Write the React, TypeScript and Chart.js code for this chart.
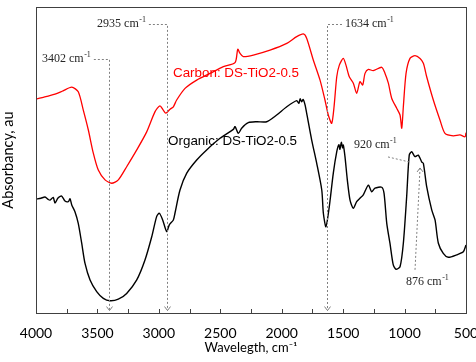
import React, { useEffect, useRef } from 'react';
import { Chart, registerables } from 'chart.js';

Chart.register(...registerables);

// Carbon: DS-TiO2-0.5 (red)
const carbonWavenumbers = [
  4000, 3940, 3900, 3845, 3780, 3709, 3656, 3615, 3574, 3534, 3493, 3438, 3384, 3330, 3262, 3180,
  3099, 3031, 2991, 2964, 2944, 2909, 2882, 2855, 2787, 2692, 2584, 2475, 2380, 2358, 2340, 2313,
  2231, 2095, 1959, 1878, 1824, 1797, 1743, 1688, 1648, 1621, 1593, 1574, 1552, 1531, 1499, 1477,
  1450, 1417, 1390, 1363, 1341, 1322, 1295, 1255, 1186, 1159, 1132, 1105, 1064, 1037, 1023, 1010,
  988, 956, 915, 874, 847, 820, 766, 712, 671, 603, 549, 508, 500,
];
const carbonAbsorbance = [
  0.699, 0.705, 0.709, 0.715, 0.726, 0.738, 0.723, 0.663, 0.598, 0.523, 0.467, 0.435, 0.424, 0.435, 0.478, 0.533,
  0.592, 0.658, 0.677, 0.663, 0.653, 0.666, 0.674, 0.696, 0.734, 0.761, 0.783, 0.805, 0.818, 0.862, 0.849, 0.838,
  0.843, 0.859, 0.881, 0.903, 0.912, 0.898, 0.827, 0.761, 0.696, 0.647, 0.62, 0.674, 0.772, 0.81, 0.832, 0.81,
  0.772, 0.751, 0.718, 0.756, 0.745, 0.783, 0.796, 0.792, 0.803, 0.783, 0.751, 0.702, 0.669, 0.647, 0.604, 0.674,
  0.783, 0.832, 0.841, 0.832, 0.816, 0.772, 0.696, 0.631, 0.587, 0.579, 0.582, 0.576, 0.589,
];

// Organic: DS-TiO2-0.5 (black)
const organicWavenumbers = [
  4000, 3960, 3927, 3900, 3886, 3860, 3845, 3821, 3791, 3764, 3737, 3723, 3709, 3683, 3656, 3628,
  3601, 3560, 3506, 3452, 3398, 3330, 3262, 3180, 3113, 3058, 3018, 2996, 2969, 2936, 2915, 2882,
  2869, 2828, 2773, 2692, 2611, 2502, 2394, 2380, 2353, 2326, 2272, 2204, 2122, 2041, 1959, 1878,
  1860, 1850, 1837, 1825, 1810, 1797, 1756, 1715, 1674, 1661, 1640, 1613, 1580, 1552, 1535, 1526,
  1515, 1505, 1499, 1485, 1466, 1444, 1417, 1390, 1363, 1336, 1295, 1268, 1241, 1186, 1167, 1145,
  1119, 1092, 1070, 1037, 1010, 983, 962, 942, 915, 888, 861, 847, 820, 779, 752, 725,
  685, 644, 576, 522, 500,
];
const organicAbsorbance = [
  0.372, 0.375, 0.379, 0.371, 0.369, 0.378, 0.359, 0.376, 0.382, 0.366, 0.364, 0.373, 0.353, 0.331, 0.293, 0.228,
  0.162, 0.108, 0.07, 0.048, 0.04, 0.045, 0.064, 0.108, 0.173, 0.249, 0.315, 0.326, 0.304, 0.266, 0.288, 0.304,
  0.326, 0.402, 0.457, 0.5, 0.533, 0.571, 0.6, 0.609, 0.587, 0.604, 0.622, 0.625, 0.625, 0.647, 0.674, 0.694,
  0.685, 0.7, 0.69, 0.698, 0.68, 0.653, 0.565, 0.489, 0.402, 0.326, 0.282, 0.347, 0.457, 0.527, 0.55, 0.535,
  0.558, 0.54, 0.549, 0.511, 0.435, 0.369, 0.342, 0.364, 0.375, 0.386, 0.418, 0.396, 0.408, 0.411, 0.391, 0.293,
  0.228, 0.157, 0.143, 0.151, 0.228, 0.38, 0.516, 0.527, 0.511, 0.516, 0.494, 0.489, 0.413, 0.337, 0.304, 0.228,
  0.195, 0.182, 0.19, 0.2, 0.222,
];

const xMin = 500;
const xMax = 4000;
const xStep = 250;
const xLabelStep = 500;

const seriesNames = ['Carbon: DS-TiO2-0.5', 'Organic: DS-TiO2-0.5'];
const xTitle = 'Wavelegth, cm⁻¹';
const yTitle = 'Absorbancy, au';

// peak annotations (data units)
const bracketPeaks = [
  { label: '3402', textW: 3951, textV: 0.83, side: 'left', lineW: 3402, tipV: 0.008 },
  { label: '2935', textW: 3503, textV: 0.944, side: 'left', lineW: 2935, tipV: 0.008 },
  { label: '1634', textW: 1485, textV: 0.944, side: 'right', lineW: 1634, tipV: 0.008 },
];
const peak920 = { label: '920', textW: 1412, textV: 0.549, fromW: 1135, fromV: 0.51, toW: 956, toV: 0.493 };
const peak876 = { label: '876', textW: 988, textV: 0.102, fromW: 915, fromV: 0.141, toW: 874, toV: 0.474 };
const seriesLabelPos = [
  { w: 2885, v: 0.784 },
  { w: 2925, v: 0.56 },
];

const annotationPlugin = {
  id: 'ftirAnnotations',
  afterDatasetsDraw(chart: any) {
    const { ctx, chartArea } = chart;
    const xs = chart.scales.x;
    const ys = chart.scales.y;
    const px = (w: number) => xs.getPixelForValue(w);
    const py = (v: number) => ys.getPixelForValue(v);
    ctx.save();

    // box border
    ctx.strokeStyle = '#404040';
    ctx.lineWidth = 1;
    ctx.setLineDash([]);
    ctx.strokeRect(
      Math.round(chartArea.left) + 0.5,
      Math.round(chartArea.top) + 0.5,
      Math.round(chartArea.right - chartArea.left),
      Math.round(chartArea.bottom - chartArea.top)
    );
    // inward ticks
    xs.ticks.forEach((t: any) => {
      const x = Math.round(px(t.value)) + 0.5;
      ctx.beginPath();
      ctx.moveTo(x, chartArea.bottom);
      ctx.lineTo(x, chartArea.bottom - 4);
      ctx.stroke();
    });

    const drawWaveLabel = (label: string, x: number, y: number) => {
      ctx.fillStyle = '#262626';
      ctx.textBaseline = 'middle';
      ctx.textAlign = 'left';
      ctx.font = '12px "Liberation Serif", serif';
      const main = label + ' cm';
      ctx.fillText(main, x, y);
      const w1 = ctx.measureText(main).width;
      ctx.font = '8px "Liberation Serif", serif';
      ctx.fillText('-1', x + w1 + 0.5, y - 4);
      const w2 = ctx.measureText('-1').width;
      return w1 + w2 + 0.5;
    };
    const arrow = (x: number, y: number, dir: number) => {
      ctx.setLineDash([]);
      ctx.beginPath();
      ctx.moveTo(x - 3, y - 4 * dir);
      ctx.lineTo(x, y);
      ctx.lineTo(x + 3, y - 4 * dir);
      ctx.stroke();
    };

    ctx.strokeStyle = '#808080';
    ctx.lineWidth = 1;
    bracketPeaks.forEach((p) => {
      const tx = px(p.textW);
      const ty = py(p.textV);
      const width = drawWaveLabel(p.label, tx, ty);
      const lx = Math.round(px(p.lineW)) + 0.5;
      const hy = Math.round(ty) + 0.5;
      ctx.strokeStyle = '#808080';
      ctx.setLineDash([2, 2]);
      ctx.beginPath();
      if (p.side === 'left') {
        ctx.moveTo(tx + width + 3, hy);
      } else {
        ctx.moveTo(tx - 3, hy);
      }
      ctx.lineTo(lx, hy);
      ctx.lineTo(lx, py(p.tipV));
      ctx.stroke();
      arrow(lx, py(p.tipV), 1);
    });

    drawWaveLabel(peak920.label, px(peak920.textW), py(peak920.textV));
    ctx.strokeStyle = '#808080';
    ctx.setLineDash([2, 2]);
    ctx.beginPath();
    ctx.moveTo(px(peak920.fromW), py(peak920.fromV));
    ctx.lineTo(px(peak920.toW), py(peak920.toV));
    ctx.stroke();

    drawWaveLabel(peak876.label, px(peak876.textW), py(peak876.textV));
    ctx.strokeStyle = '#808080';
    ctx.setLineDash([2, 2]);
    ctx.beginPath();
    ctx.moveTo(px(peak876.fromW), py(peak876.fromV));
    ctx.lineTo(px(peak876.toW), py(peak876.toV));
    ctx.stroke();
    arrow(px(peak876.toW), py(peak876.toV), -1);

    // series labels
    ctx.setLineDash([]);
    ctx.textAlign = 'left';
    ctx.textBaseline = 'middle';
    ctx.font = '13.4px "Liberation Sans", Arial, sans-serif';
    ctx.fillStyle = '#ff0000';
    ctx.fillText(seriesNames[0], px(seriesLabelPos[0].w), py(seriesLabelPos[0].v));
    ctx.fillStyle = '#000000';
    ctx.fillText(seriesNames[1], px(seriesLabelPos[1].w), py(seriesLabelPos[1].v));

    ctx.restore();
  },
};

export default function App() {
  const canvasRef = useRef<HTMLCanvasElement | null>(null);

  useEffect(() => {
    document.body.style.margin = '0';
    const canvas = canvasRef.current;
    if (!canvas) return;
    const chart = new Chart(canvas, {
      type: 'line',
      data: {
        datasets: [
          {
            label: seriesNames[0],
            data: carbonWavenumbers.map((w, i) => ({ x: w, y: carbonAbsorbance[i] })),
            borderColor: '#ff0000',
            borderWidth: 1.3,
            pointRadius: 0,
            tension: 0.25,
            fill: false,
          },
          {
            label: seriesNames[1],
            data: organicWavenumbers.map((w, i) => ({ x: w, y: organicAbsorbance[i] })),
            borderColor: '#000000',
            borderWidth: 1.4,
            pointRadius: 0,
            tension: 0.25,
            fill: false,
          },
        ],
      },
      options: {
        animation: false,
        responsive: false,
        devicePixelRatio: 1,
        layout: { padding: { top: 7, right: 10, left: 0, bottom: 0 } },
        plugins: { legend: { display: false }, tooltip: { enabled: false } },
        scales: {
          x: {
            type: 'linear',
            reverse: true,
            min: xMin,
            max: xMax,
            grid: { display: false },
            border: { display: false },
            ticks: {
              stepSize: xStep,
              autoSkip: false,
              maxRotation: 0,
              padding: 4,
              color: '#000000',
              font: { family: 'Lato', size: 14 },
              callback: (v: any) => (Number(v) % xLabelStep === 0 ? String(v) : ''),
            },
            title: {
              display: true,
              text: xTitle,
              color: '#000000',
              font: { family: 'Lato', size: 13 },
              padding: { top: 0, bottom: 6 },
            },
            afterFit: (s: any) => {
              s.height = 49;
              s.paddingLeft = 0;
              s.paddingRight = 0;
            },
          },
          y: {
            min: 0,
            max: 1,
            grid: { display: false },
            border: { display: false },
            ticks: { display: false },
            title: {
              display: true,
              text: yTitle,
              color: '#000000',
              font: { family: 'Lato', size: 14.5 },
              padding: { top: 0, bottom: 0 },
            },
            afterFit: (s: any) => {
              s.width = 36;
            },
          },
        },
      },
      plugins: [annotationPlugin],
    });
    return () => chart.destroy();
  }, []);

  return (
    <div style={{ width: 476, height: 362 }}>
      <canvas ref={canvasRef} width={476} height={362} />
    </div>
  );
}
